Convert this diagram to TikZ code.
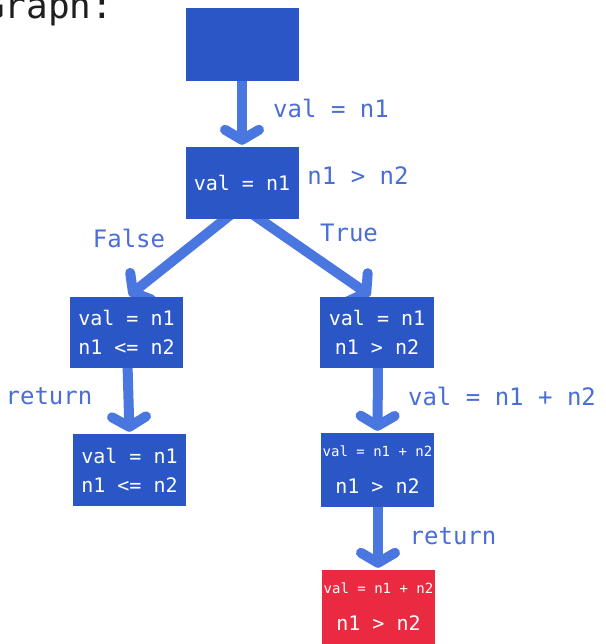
\documentclass[tikz,border=0pt]{standalone}
\usepackage{fontspec}
\setmonofont{DejaVu Sans Mono}
\usetikzlibrary{arrows.meta,backgrounds}
\definecolor{boxblue}{HTML}{2B56C6}
\definecolor{arrowblue}{HTML}{4A76E0}
\definecolor{labelblue}{HTML}{4A6ED6}
\definecolor{boxred}{HTML}{EA2A40}
\definecolor{ink}{HTML}{1E1E1E}
\begin{document}
\begin{tikzpicture}[x=1pt,y=-1pt,
  state/.style={fill=boxblue, minimum width=113pt, minimum height=72pt,
    inner sep=0pt, text=white, align=center,
    font=\ttfamily\fontsize{20}{29}\selectfont},
  flow/.style={draw=arrowblue, line width=10pt,
    -{Straight Barb[round,length=10pt,width=34pt]}, shorten >=2pt},
  lbl/.style={text=labelblue, inner sep=0pt,
    font=\ttfamily\fontsize{24}{28}\selectfont}]

  \useasboundingbox (0,0) rectangle (605,644);

  % heading
  \node[anchor=base west, inner sep=0pt, text=ink,
        font=\ttfamily\fontsize{36}{40}\selectfont] (title) at (-17,19) {Graph:};

  % states
  \node[state, minimum height=73pt] (top) at (242,44.5) {};
  \node[state] (b2) at (242,183) {val = n1};
  \node[state, minimum height=71pt] (l1) at (126.5,332.5) {val = n1\\n1 <= n2};
  \node[state, minimum height=71pt, minimum width=114pt] (r1) at (377,332.5) {val = n1\\n1 > n2};
  \node[state] (l2) at (129.5,470) {val = n1\\n1 <= n2};
  \node[state, minimum height=74pt] (r2) at (377.5,470)
       {{\fontsize{14}{16}\selectfont val = n1 + n2}\\[8pt]n1 > n2};
  \node[state, fill=boxred, minimum height=74pt] (r3) at (378.5,607)
       {{\fontsize{14}{16}\selectfont val = n1 + n2}\\[8pt]n1 > n2};

  % transitions, drawn beneath the boxes
  \begin{scope}[on background layer]
    \fill[white] (0,0) rectangle (605,644);
    \draw[flow] ([yshift=4pt]top.south) -- (b2.north);
    \draw[flow] ([xshift=-12pt,yshift=4pt]b2.south) -- ([xshift=1pt]l1.north);
    \draw[flow] ([xshift=12pt,yshift=4pt]b2.south) -- ([xshift=-5pt]r1.north);
    \draw[flow] ([xshift=1pt,yshift=4pt]l1.south) -- (l2.north);
    \draw[flow] ([xshift=1pt,yshift=4pt]r1.south) -- (r2.north);
    \draw[flow] ([xshift=0.5pt,yshift=4pt]r2.south) -- ([xshift=-0.5pt]r3.north);
  \end{scope}

  % transition labels
  \node[lbl] (t1) at (331,108) {val = n1};
  \node[lbl] (t2) at (358,176) {n1 > n2};
  \node[lbl] (t3) at (129,238) {False};
  \node[lbl] (t4) at (349,233) {True};
  \node[lbl] (t5) at (49,396) {return};
  \node[lbl] (t6) at (502,396) {val = n1 + n2};
  \node[lbl] (t7) at (453,536) {return};
\end{tikzpicture}
\end{document}
